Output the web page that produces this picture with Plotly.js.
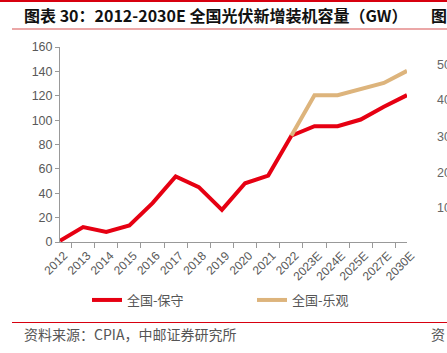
<!DOCTYPE html>
<html>
<head>
<meta charset="utf-8">
<script src="https://cdn.plot.ly/plotly-3.0.1.min.js"></script>
<style>
html,body{margin:0;padding:0;background:#fff;}
#chart{width:447px;height:353px;}
</style>
</head>
<body>
<div id="chart"></div>
<script>
// ---- data ----
const categories = ["2012","2013","2014","2015","2016","2017","2018","2019","2020","2021","2022","2023E","2024E","2025E","2027E","2030E"];
const conservative = [1, 12.3, 8.2, 13.6, 31.9, 53.7, 45, 26.4, 48.2, 54.5, 87.2, 95, 95, 100.5, 111, 120.5];
const optimistic = [null, null, null, null, null, null, null, null, null, null, 87.2, 120.5, 120.5, 125.5, 130.5, 140.4];
const seriesNames = ["全国-保守", "全国-乐观"];
const titleText = "图表 30：2012-2030E 全国光伏新增装机容量（GW）";
const sourceText = "资料来源：CPIA，中邮证券研究所";
const neighbourTicks = ["50","40","30","20","10"];

// ---- layout helpers ----
const W = 447, H = 353;
const L = 60, R = 40, T = 47, B = 111;
const pw = W - L - R, ph = H - T - B;
const px = x => (x - L) / pw;
const py = y => (H - B - y) / ph;

const cjk = '"Noto Sans CJK SC", "Noto Sans", sans-serif';
const lat = '"Liberation Sans", Arial, sans-serif';

const traces = [
  {x: categories, y: conservative, name: seriesNames[0], type: 'scatter', mode: 'lines',
   line: {color: '#E60012', width: 4}},
  {x: categories, y: optimistic, name: seriesNames[1], type: 'scatter', mode: 'lines',
   line: {color: '#DDB47C', width: 4}}
];

const annotations = [
  {text: titleText, xref: 'paper', yref: 'paper', x: px(22), y: py(15), xanchor: 'left', yanchor: 'middle',
   showarrow: false, font: {family: cjk, size: 16, color: '#111', weight: 'bold'}},
  {text: sourceText, xref: 'paper', yref: 'paper', x: px(22), y: py(334), xanchor: 'left', yanchor: 'middle',
   showarrow: false, font: {family: cjk, size: 14, color: '#555'}},
  {text: '图', xref: 'paper', yref: 'paper', x: px(429), y: py(15), xanchor: 'left', yanchor: 'middle',
   showarrow: false, font: {family: cjk, size: 16, color: '#111', weight: 'bold'}},
  {text: '资', xref: 'paper', yref: 'paper', x: px(429), y: py(334), xanchor: 'left', yanchor: 'middle',
   showarrow: false, font: {family: cjk, size: 14, color: '#555'}}
];
const nY = [65, 100, 137, 173, 208];
neighbourTicks.forEach((t, i) => annotations.push({
  text: t, xref: 'paper', yref: 'paper', x: px(435), y: py(nY[i]), xanchor: 'left', yanchor: 'middle',
  showarrow: false, font: {family: lat, size: 12.5, color: '#666'}}));

const shapes = [
  {type: 'line', xref: 'paper', yref: 'paper', x0: px(0), x1: px(W), y0: py(1), y1: py(1),
   line: {color: '#D7000F', width: 2}},
  {type: 'line', xref: 'paper', yref: 'paper', x0: px(12), x1: px(W), y0: py(29), y1: py(29),
   line: {color: '#E58A8A', width: 1.5}},
  {type: 'line', xref: 'paper', yref: 'paper', x0: px(12), x1: px(W), y0: py(322.5), y1: py(322.5),
   line: {color: '#D7000F', width: 1.2}}
];

const layout = {
  width: W, height: H,
  margin: {l: L, r: R, t: T, b: B, pad: 0},
  paper_bgcolor: '#fff', plot_bgcolor: '#fff',
  showlegend: true,
  legend: {orientation: 'h', x: px(87), y: py(285), xanchor: 'left', yanchor: 'top',
           entrywidth: 120, entrywidthmode: 'pixels', itemwidth: 30,
           font: {family: cjk, size: 13, color: '#555'}, bgcolor: 'rgba(0,0,0,0)'},
  xaxis: {type: 'category', tickangle: -45, tickson: 'boundaries', ticks: 'outside', ticklen: 5,
          tickcolor: '#999', showline: true, linecolor: '#999', linewidth: 1, showgrid: false,
          ticklabelshift: 4, ticklabelstandoff: 1,
          zeroline: false, tickfont: {family: lat, size: 12, color: '#595959'}, automargin: false},
  yaxis: {range: [0, 160], dtick: 20, ticks: 'outside', ticklen: 4, tickcolor: '#999',
          showline: true, linecolor: '#999', linewidth: 1, showgrid: false, zeroline: false,
          tickfont: {family: lat, size: 12.5, color: '#595959'}, automargin: false},
  annotations: annotations,
  shapes: shapes
};

Plotly.newPlot('chart', traces, layout, {displayModeBar: false, staticPlot: true});
</script>
</body>
</html>
